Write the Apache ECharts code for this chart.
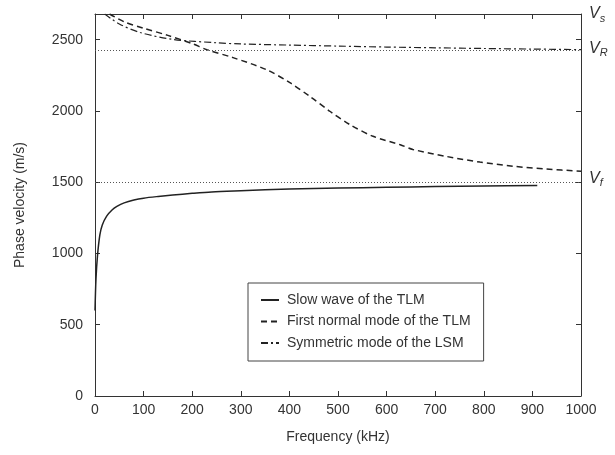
<!DOCTYPE html>
<html>
<head>
<meta charset="utf-8">
<script src="https://cdn.jsdelivr.net/npm/echarts@6/dist/echarts.min.js"></script>
<style>
  html, body {margin: 0; padding: 0; background: #fff;}
  #chart {width: 615px; height: 455px;}
</style>
</head>
<body>
<div id="chart"></div>
<script>
// slow wave of the TLM (solid)
const slowFreq = [0, 2, 5, 10, 15, 24, 35, 45, 60, 80, 100, 130, 160, 200, 240, 300, 400, 500, 600, 700, 800, 910];
const slowVel = [600, 820, 980, 1130, 1200, 1262, 1305, 1330, 1355, 1375, 1388, 1400, 1410, 1422, 1432, 1440, 1452, 1459, 1464, 1469, 1473, 1477];

// first normal mode of the TLM (dashed)
const firstFreq = [30, 60, 100, 150, 200, 230, 284, 353, 401, 442, 484, 525, 572, 628, 654, 724, 792, 860, 929, 1000];
const firstVel = [2680, 2625, 2580, 2530, 2472, 2430, 2374, 2289, 2198, 2102, 1996, 1903, 1822, 1763, 1730, 1680, 1641, 1612, 1592, 1577];

// symmetric mode of the LSM (dash-dot)
const symFreq = [20, 50, 93, 160, 250, 300, 400, 500, 600, 700, 800, 900, 1000];
const symVel = [2680, 2610, 2550, 2502, 2478, 2470, 2462, 2455, 2448, 2443, 2438, 2434, 2430];

// reference velocities
const vS = 2680;
const vR = 2425;
const vF = 1500;

const xTicks = [0, 100, 200, 300, 400, 500, 600, 700, 800, 900, 1000];
const yTicks = [0, 500, 1000, 1500, 2000, 2500];

const zip = (xs, ys) => xs.map((x, i) => [x, ys[i]]);

const font = 'Liberation Sans, Arial, sans-serif';
const ink = '#333';

const chart = echarts.init(document.getElementById('chart'));

const vLabel = (sub, dy) => ({
  show: true,
  position: 'end',
  distance: 8,
  offset: [0, dy],
  formatter: '{v|V}{s|' + sub + '}',
  rich: {
    v: {fontFamily: font, fontStyle: 'italic', fontSize: 16, color: ink},
    s: {fontFamily: font, fontStyle: 'italic', fontSize: 11, color: ink, padding: [9, 0, 0, 0]}
  }
});

const frameAxis = {
  axisLine: {show: true, onZero: false, lineStyle: {color: ink}},
  axisTick: {show: true, inside: true, length: 5, lineStyle: {color: ink}},
  splitLine: {show: false}
};

chart.setOption({
  animation: false,
  grid: {left: 95, right: 34, top: 14, bottom: 59},
  xAxis: [{
    ...frameAxis,
    type: 'value',
    min: 0, max: 1000, interval: 100,
    name: 'Frequency (kHz)',
    nameLocation: 'middle',
    nameGap: 34,
    nameTextStyle: {fontFamily: font, fontSize: 14, color: ink},
    axisLabel: {fontFamily: font, fontSize: 14, color: ink, margin: 7,
      formatter: v => xTicks.includes(v) ? String(v) : ''}
  }, {
    ...frameAxis,
    type: 'value',
    position: 'top',
    min: 0, max: 1000, interval: 100,
    axisLabel: {show: false}
  }],
  yAxis: [{
    ...frameAxis,
    type: 'value',
    min: 0, max: vS, interval: 500,
    name: 'Phase velocity (m/s)',
    nameLocation: 'middle',
    nameGap: 68,
    nameTextStyle: {fontFamily: font, fontSize: 14, color: ink},
    axisLabel: {fontFamily: font, fontSize: 14, color: ink, margin: 12, showMaxLabel: false,
      formatter: v => yTicks.includes(v) ? String(v) : ''}
  }, {
    ...frameAxis,
    type: 'value',
    position: 'right',
    min: 0, max: vS, interval: 500,
    axisLabel: {show: false}
  }],
  legend: {
    orient: 'vertical',
    left: 248,
    top: 283,
    padding: [10, 13, 11, 12],
    itemGap: 7.5,
    itemWidth: 18,
    itemHeight: 14,
    borderColor: '#444',
    borderWidth: 1,
    backgroundColor: '#fff',
    itemStyle: {opacity: 0},
    textStyle: {fontFamily: font, fontSize: 14, color: ink, padding: [0, 0, 0, 3]},
    data: ['Slow wave of the TLM', 'First normal mode of the TLM', 'Symmetric mode of the LSM']
  },
  series: [{
    name: 'Slow wave of the TLM',
    type: 'line',
    data: zip(slowFreq, slowVel),
    symbol: 'none',
    smooth: 0.3,
    lineStyle: {color: '#222', width: 1.5, type: 'solid'},
    itemStyle: {color: '#222'}
  }, {
    name: 'First normal mode of the TLM',
    type: 'line',
    data: zip(firstFreq, firstVel),
    symbol: 'none',
    smooth: 0.3,
    lineStyle: {color: '#222', width: 1.5, type: [6, 4]},
    itemStyle: {color: '#222'}
  }, {
    name: 'Symmetric mode of the LSM',
    type: 'line',
    data: zip(symFreq, symVel),
    symbol: 'none',
    smooth: 0.3,
    lineStyle: {color: '#222', width: 1.2, type: [7, 3, 2, 3]},
    itemStyle: {color: '#222'}
  }, {
    name: 'refs',
    type: 'line',
    xAxisIndex: 1,
    yAxisIndex: 1,
    data: [],
    markLine: {
      silent: true,
      symbol: 'none',
      data: [
        {yAxis: vS, lineStyle: {color: 'transparent', width: 1}, label: vLabel('s', 0)},
        {yAxis: vR, lineStyle: {color: '#555', width: 1, type: [1, 2]}, label: vLabel('R', -2)},
        {yAxis: vF, lineStyle: {color: '#555', width: 1, type: [1, 2]}, label: vLabel('f', -4)}
      ]
    }
  }]
});
</script>
</body>
</html>
